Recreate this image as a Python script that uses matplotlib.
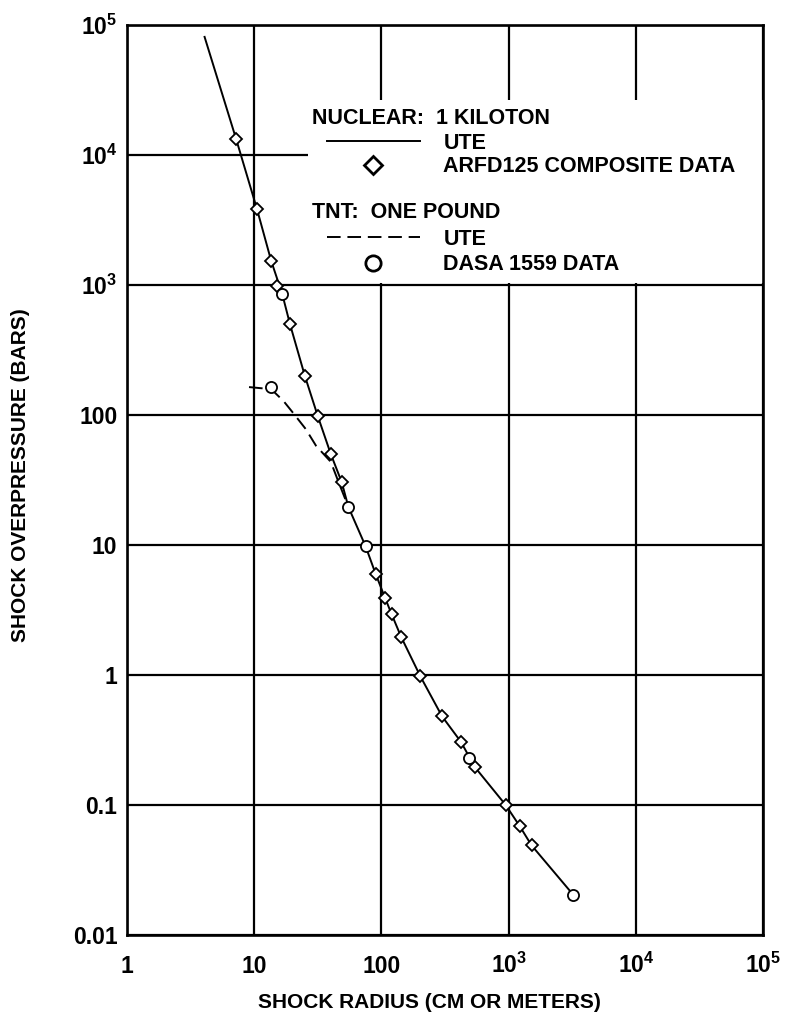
import matplotlib
matplotlib.use('Agg')
import matplotlib.pyplot as plt
from matplotlib.patches import Rectangle
from matplotlib.lines import Line2D

plt.rcParams['font.family'] = ['Liberation Sans', 'DejaVu Sans']
plt.rcParams['font.weight'] = 'bold'
plt.rcParams['mathtext.fontset'] = 'custom'
plt.rcParams['mathtext.rm'] = 'Liberation Sans:bold'
plt.rcParams['mathtext.bf'] = 'Liberation Sans:bold'

# nuclear 1 kt, UTE curve
ute_nuc_x = [4.07, 7.2, 10.5, 13.6, 16.6, 19.1, 25, 31.6, 40, 48.7, 55, 75, 90,
             107, 120, 143, 202, 300, 422, 542, 948, 1220, 1513, 3220]
ute_nuc_y = [8.1e4, 1.33e4, 3850, 1530, 853, 500, 200, 98, 50, 30.5, 19.6, 9.8, 6.0,
             3.9, 2.95, 1.96, 0.98, 0.48, 0.306, 0.196, 0.1, 0.069, 0.049, 0.0204]

# TNT one pound, UTE curve (joins the nuclear curve below ~50 bars)
ute_tnt_x = [9.1, 13.6, 17, 20.5, 25.4, 30.6, 40, 46, 55]
ute_tnt_y = [164, 158, 128, 102, 78, 58, 43.6, 30.5, 19.6]

# ARFD125 composite data (diamonds)
arfd_x = [7.2, 10.5, 13.6, 15.1, 19.1, 25, 31.6, 40, 48.7, 90, 107, 120, 143,
          202, 300, 422, 542, 948, 1220, 1513]
arfd_y = [1.33e4, 3850, 1530, 980, 500, 200, 98, 50, 30.5, 6.0, 3.9, 2.95, 1.96,
          0.98, 0.48, 0.306, 0.196, 0.1, 0.069, 0.049]

# DASA 1559 data (circles)
dasa_x = [13.6, 16.6, 55, 75, 487, 3220]
dasa_y = [164, 853, 19.6, 9.8, 0.23, 0.0204]

xticks = [1, 10, 100, 1e3, 1e4, 1e5]
xticklabels = ['1', '10', '100', r'$\mathrm{10^{3}}$', r'$\mathrm{10^{4}}$', r'$\mathrm{10^{5}}$']
yticks = [0.01, 0.1, 1, 10, 100, 1e3, 1e4, 1e5]
yticklabels = ['0.01', '0.1', '1', '10', '100', r'$\mathrm{10^{3}}$', r'$\mathrm{10^{4}}$',
               r'$\mathrm{10^{5}}$']

fig = plt.figure(figsize=(7.93, 10.16), dpi=100)
ax = fig.add_axes([0.1602, 0.0797, 0.8020, 0.8957])
ax.set_xscale('log')
ax.set_yscale('log')
ax.set_xlim(1, 1e5)
ax.set_ylim(0.01, 1e5)

ax.plot(ute_nuc_x, ute_nuc_y, color='black', lw=1.4, zorder=3)
ax.plot(ute_tnt_x, ute_tnt_y, color='black', lw=1.4, ls=(0, (7, 3.5)), zorder=3)
ax.plot(arfd_x, arfd_y, 'D', ms=6.5, mfc='white', mec='black', mew=1.3, zorder=4)
ax.plot(dasa_x, dasa_y, 'o', ms=8, mfc='white', mec='black', mew=1.3, zorder=4)

ax.set_xticks(xticks)
ax.set_xticklabels(xticklabels)
ax.set_yticks(yticks)
ax.set_yticklabels(yticklabels)
ax.minorticks_off()
ax.tick_params(length=0, labelsize=16.5)
ax.tick_params(axis='y', pad=7)
ax.tick_params(axis='x', pad=27)
for lab in ax.get_xticklabels():
    lab.set_va('baseline')
ax.grid(True, color='black', lw=1.6)
for sp in ax.spines.values():
    sp.set_linewidth(1.9)
    sp.set_zorder(6)

ax.set_xlabel('SHOCK RADIUS (CM OR METERS)', fontsize=15, fontweight='bold')
ax.xaxis.set_label_coords(0.476, -0.0637)
ax.set_ylabel('SHOCK OVERPRESSURE (BARS)', fontsize=15, fontweight='bold')
ax.yaxis.set_label_coords(-0.1525, 0.5055)

# legend area (white box over the grid)
ax.add_patch(Rectangle((0.2846, 0.7165), 0.7154, 0.2011, transform=ax.transAxes,
                       facecolor='white', edgecolor='none', zorder=2))
ax.text(0.291, 0.8969, 'NUCLEAR:  1 KILOTON', transform=ax.transAxes, fontsize=15.5,
        va='center', ha='left', zorder=5)
ax.text(0.291, 0.7935, 'TNT:  ONE POUND', transform=ax.transAxes, fontsize=15.5,
        va='center', ha='left', zorder=5)

h1 = [Line2D([], [], color='black', lw=1.4),
      Line2D([], [], ls='none', marker='D', ms=9, mfc='white', mec='black', mew=2)]
h2 = [Line2D([], [], color='black', lw=1.4, ls=(0, (7, 3.5))),
      Line2D([], [], ls='none', marker='o', ms=11, mfc='white', mec='black', mew=2)]
leg1 = ax.legend(h1, ['UTE', 'ARFD125 COMPOSITE DATA'], loc='upper left',
                 bbox_to_anchor=(0.3145, 0.8816), frameon=False, borderpad=0,
                 borderaxespad=0, handlelength=4.3, handletextpad=1.1,
                 labelspacing=0.12, fontsize=15.5)
ax.add_artist(leg1)
leg2 = ax.legend(h2, ['UTE', 'DASA 1559 DATA'], loc='upper left',
                 bbox_to_anchor=(0.3145, 0.776), frameon=False, borderpad=0,
                 borderaxespad=0, handlelength=4.3, handletextpad=1.1,
                 labelspacing=0.2, fontsize=15.5)

fig.savefig('out.png', dpi=100)
